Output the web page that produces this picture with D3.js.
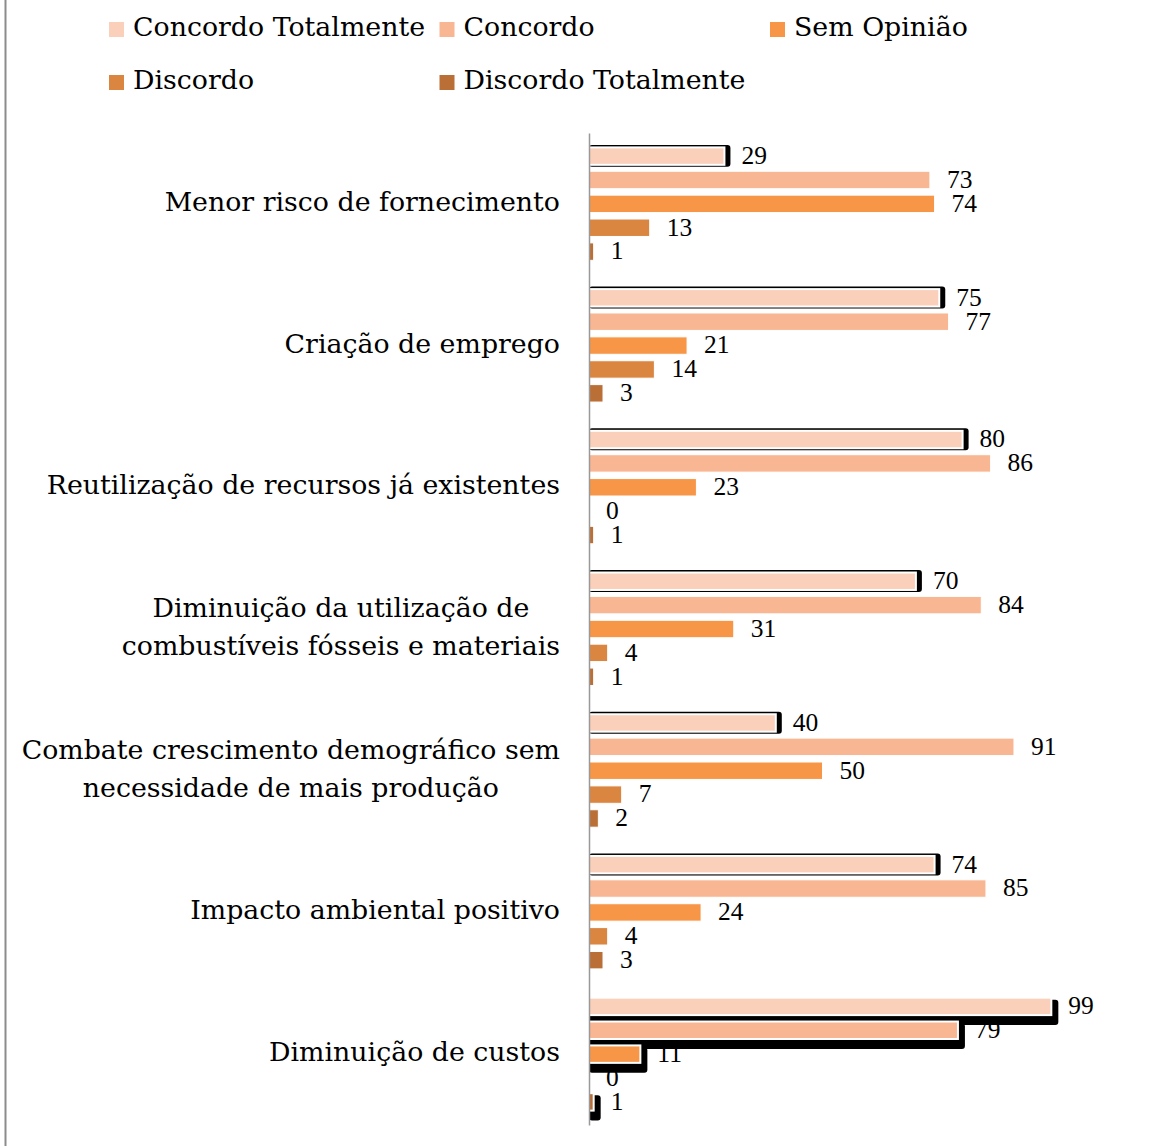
<!DOCTYPE html>
<html><head><meta charset="utf-8">
<script src="https://cdn.jsdelivr.net/npm/d3@7"></script>
<style>html,body{margin:0;padding:0;background:#fff;}svg{display:block;}</style>
</head><body>
<script>
const categories = [
  "Menor risco de fornecimento",
  "Criação de emprego",
  "Reutilização de recursos já existentes",
  "Diminuição da utilização de\ncombustíveis fósseis e materiais",
  "Combate crescimento demográfico sem\nnecessidade de mais produção",
  "Impacto ambiental positivo",
  "Diminuição de custos"
];
const seriesNames = ["Concordo Totalmente", "Concordo", "Sem Opinião", "Discordo", "Discordo Totalmente"];
const concordoTotalmente = [29, 75, 80, 70, 40, 74, 99];
const concordo = [73, 77, 86, 84, 91, 85, 79];
const semOpiniao = [74, 21, 23, 31, 50, 24, 11];
const discordo = [13, 14, 0, 4, 7, 4, 0];
const discordoTotalmente = [1, 3, 1, 1, 2, 3, 1];
const seriesValues = [concordoTotalmente, concordo, semOpiniao, discordo, discordoTotalmente];
const colors = ["#FBD0BA", "#F8B692", "#F79646", "#DA8641", "#B96F36"];

const W = 1168, H = 1146;
const svg = d3.select("body").append("svg").attr("width", W).attr("height", H);
const textFont = "'DejaVu Serif', serif";
const numFont = "'Liberation Serif', serif";
const textSize = 26.8;

// frame line on the left
svg.append("line").attr("x1", 5.5).attr("x2", 5.5).attr("y1", 0).attr("y2", H)
  .attr("stroke", "#8c8c8c").attr("stroke-width", 2);

const x = d3.scaleLinear().domain([0, 100]).range([589, 1056]);
const y = d3.scaleBand().domain(categories).range([133, 1125]);
const ys = d3.scaleBand().domain(seriesNames).range([12, y.bandwidth() - 12]).paddingInner(0.27).paddingOuter(0.1);

const data = [];
categories.forEach((c, ci) => {
  seriesNames.forEach((s, si) => {
    data.push({c, ci, s, si, v: seriesValues[si][ci]});
  });
});

// value labels (drawn first so shadows can overlap, as in the original)
svg.append("g").selectAll("text").data(data).join("text")
  .attr("x", d => x(d.v) + 17)
  .attr("y", d => y(d.c) + ys(d.s) + ys.bandwidth() / 2 + 2)
  .attr("dominant-baseline", "middle")
  .attr("font-family", numFont).attr("font-size", 25.5).attr("fill", "#000")
  .text(d => d.v);

const bars = svg.append("g");
const lastCat = categories[categories.length - 1];
data.forEach(d => {
  const bx = x(0), by = y(d.c) + ys(d.s), bw = x(d.v) - x(0), bh = ys.bandwidth();
  if (d.c === lastCat && d.v > 0) {
    bars.append("rect").attr("x", bx).attr("y", by + 2).attr("width", bw + 7).attr("height", bh + 8)
      .attr("rx", 3).attr("fill", "#000");
  } else if (d.si === 0) {
    bars.append("rect").attr("x", bx).attr("y", by - 2.5).attr("width", bw + 6).attr("height", bh + 4.5)
      .attr("rx", 3).attr("fill", "#000");
  }
  bars.append("rect").attr("x", bx).attr("y", by).attr("width", Math.max(0, bw)).attr("height", bh)
    .attr("fill", colors[d.si])
    .attr("stroke", d.v > 0 ? "#fff" : "none").attr("stroke-width", (d.si === 0 || d.c === lastCat) ? 2 : 1);
});

// axis line
const axis = svg.append("g").attr("transform", `translate(${x(0)},0)`)
  .call(d3.axisLeft(y).tickSize(0).tickFormat(""));
axis.select(".domain").attr("stroke", "#999").attr("stroke-width", 1.5);

// category labels
const lab = svg.append("g");
categories.forEach(c => {
  const lines = c.split("\n");
  const lh = 38;
  const cy = y(c) + y.bandwidth() / 2;
  const g = lab.append("g");
  const ts = lines.map((ln, i) => g.append("text")
    .attr("y", cy + (i - (lines.length - 1) / 2) * lh)
    .attr("dominant-baseline", "middle")
    .attr("text-anchor", "middle")
    .attr("font-family", textFont).attr("font-size", textSize).attr("fill", "#000")
    .text(ln));
  const maxW = d3.max(ts, t => t.node().getComputedTextLength());
  ts.forEach(t => t.attr("x", 560 - maxW / 2));
});

// legend
const legPos = [[0, 0], [1, 0], [2, 0], [0, 1], [1, 1]];
const leg = svg.append("g");
seriesNames.forEach((s, i) => {
  const [col, row] = legPos[i];
  const lx = 109 + col * 330.5, ly = 29 + row * 53;
  leg.append("rect").attr("x", lx).attr("y", ly - 7).attr("width", 15).attr("height", 15).attr("fill", colors[i]);
  leg.append("text").attr("x", lx + 24).attr("y", ly).attr("dominant-baseline", "middle")
    .attr("font-family", textFont).attr("font-size", textSize).attr("fill", "#000").text(s);
});
</script>
</body></html>
